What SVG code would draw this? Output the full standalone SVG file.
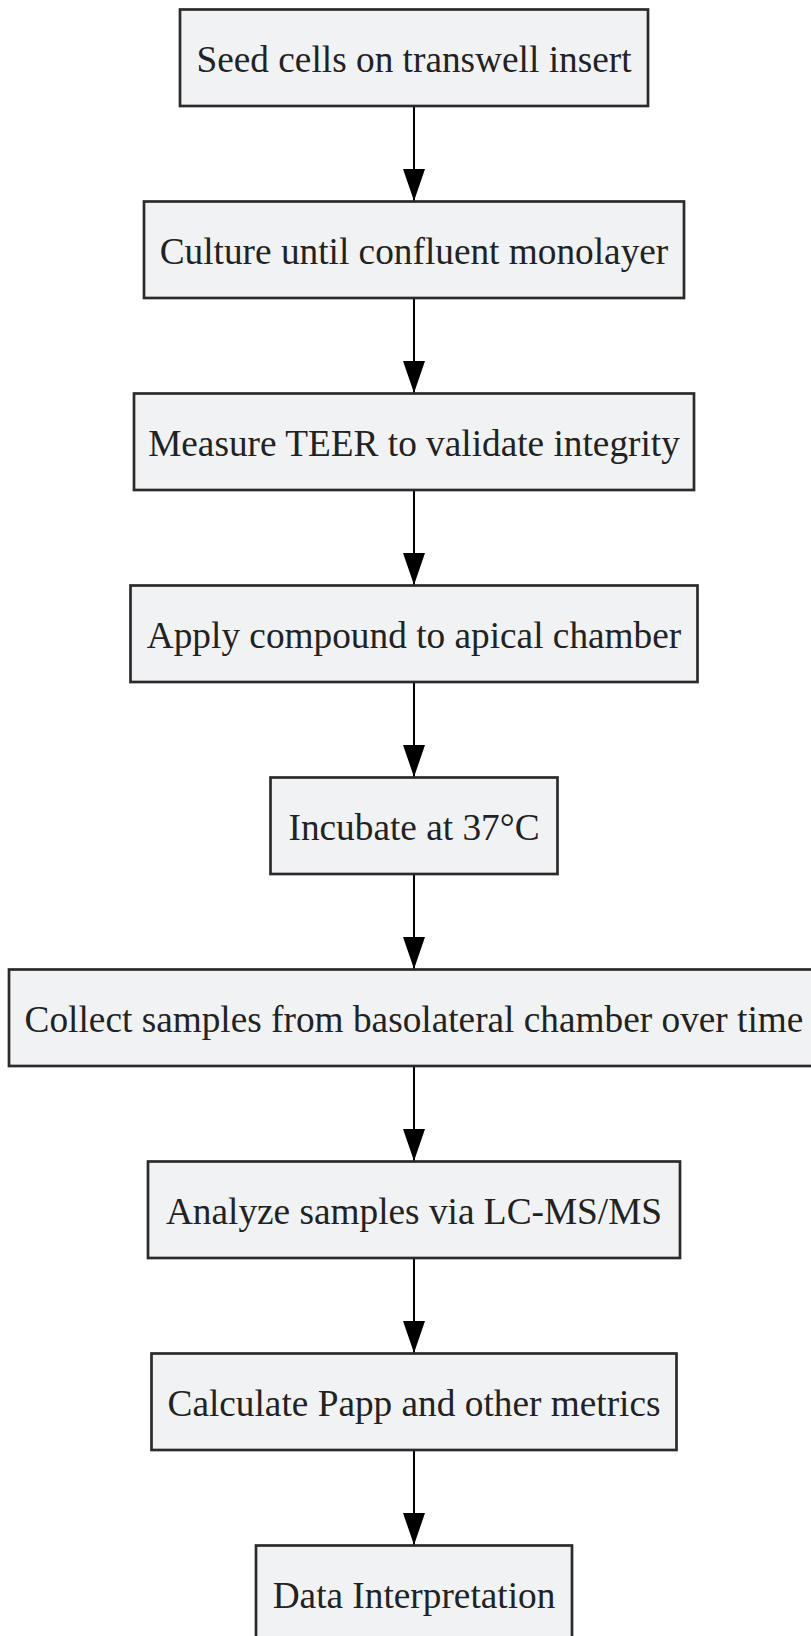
<svg xmlns="http://www.w3.org/2000/svg" width="811" height="1636" viewBox="0 0 811 1636">
<defs>
<style>
.box{fill:#f1f2f4;stroke:#2b2b2b;stroke-width:2.7}
.lbl{font-family:"Liberation Serif","Times New Roman",serif;font-size:37.3px;fill:#222;text-anchor:middle}
.edge{stroke:#000;stroke-width:2;fill:none}
</style>
<marker id="arr" markerWidth="32" markerHeight="22" refX="32" refY="11" orient="auto" markerUnits="userSpaceOnUse">
<path d="M0,0 L32,11 L0,22 Z" fill="#000"/>
</marker>
</defs>
<rect width="811" height="1636" fill="#fff"/>
<g id="connectors">
<line class="edge" x1="414" y1="106" x2="414" y2="201" marker-end="url(#arr)"/>
<line class="edge" x1="414" y1="298" x2="414" y2="393" marker-end="url(#arr)"/>
<line class="edge" x1="414" y1="490" x2="414" y2="585" marker-end="url(#arr)"/>
<line class="edge" x1="414" y1="682" x2="414" y2="777" marker-end="url(#arr)"/>
<line class="edge" x1="414" y1="874" x2="414" y2="969" marker-end="url(#arr)"/>
<line class="edge" x1="414" y1="1066" x2="414" y2="1161" marker-end="url(#arr)"/>
<line class="edge" x1="414" y1="1258" x2="414" y2="1353" marker-end="url(#arr)"/>
<line class="edge" x1="414" y1="1450" x2="414" y2="1545" marker-end="url(#arr)"/>
</g>
<g id="n1"><rect class="box" x="180" y="9.5" width="468" height="96.5"/><text class="lbl" x="414" y="71.5">Seed cells on transwell insert</text></g>
<g id="n2"><rect class="box" x="144" y="201.5" width="540" height="96.5"/><text class="lbl" x="414" y="263.5">Culture until confluent monolayer</text></g>
<g id="n3"><rect class="box" x="134" y="393.5" width="560" height="96.5"/><text class="lbl" x="414" y="455.5">Measure TEER to validate integrity</text></g>
<g id="n4"><rect class="box" x="130.5" y="585.5" width="567" height="96.5"/><text class="lbl" x="414" y="647.5">Apply compound to apical chamber</text></g>
<g id="n5"><rect class="box" x="270.5" y="777.5" width="287" height="96.5"/><text class="lbl" x="414" y="839.5">Incubate at 37°C</text></g>
<g id="n6"><rect class="box" x="9" y="969.5" width="810" height="96.5"/><text class="lbl" x="414" y="1031.5">Collect samples from basolateral chamber over time</text></g>
<g id="n7"><rect class="box" x="148" y="1161.5" width="532" height="96.5"/><text class="lbl" x="414" y="1223.5">Analyze samples via LC-MS/MS</text></g>
<g id="n8"><rect class="box" x="151.5" y="1353.5" width="525" height="96.5"/><text class="lbl" x="414" y="1415.5">Calculate Papp and other metrics</text></g>
<g id="n9"><rect class="box" x="256" y="1545.5" width="316" height="96.5"/><text class="lbl" x="414" y="1607.5">Data Interpretation</text></g>
</svg>
